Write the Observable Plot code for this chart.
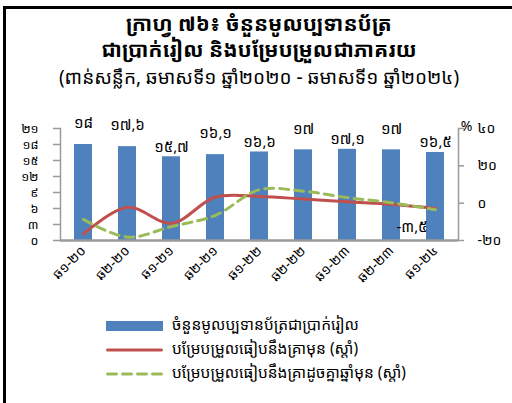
<!DOCTYPE html>
<html>
<head>
<meta charset="utf-8">
<script src="https://cdn.jsdelivr.net/npm/d3@7"></script>
<script src="https://cdn.jsdelivr.net/npm/@observablehq/plot@0.6"></script>
<style>
  html, body { margin: 0; padding: 0; background: #fff; }
  #wrap { position: relative; width: 512px; height: 403px; overflow: hidden;
    font-family: "Khmer OS System", "Khmer OS", "Noto Sans Khmer", "Noto Sans", sans-serif; color: #000; }
  #frame { position: absolute; left: 3px; top: 6px; width: 520px; height: 420px;
    border-left: 3px solid #000; border-top: 3px solid #000; }
  .title { position: absolute; left: 6px; width: 506px; text-align: center; white-space: nowrap; }
  .t1 { top: 10px; font-size: 21px; font-weight: bold; line-height: 26px; }
  .t2 { top: 36px; font-size: 21px; font-weight: bold; line-height: 26px; }
  .t3 { top: 66px; font-size: 19px; line-height: 22px; }
  #chart { position: absolute; left: 0; top: 100px; }
  .leg { position: absolute; left: 106px; font-size: 15.5px; line-height: 20px; white-space: nowrap; }
  .leg svg { vertical-align: middle; margin-right: 9px; }
</style>
</head>
<body>
<div id="wrap">
  <div id="frame"></div>
  <div class="title t1">ក្រាហ្វ ៧៦៖ ចំនួនមូលប្បទានប័ត្រ</div>
  <div class="title t2">ជាប្រាក់រៀល និងបម្រែបម្រួលជាភាគរយ</div>
  <div class="title t3">(ពាន់សន្លឹក, ឆមាសទី១ ឆ្នាំ២០២០ - ឆមាសទី១ ឆ្នាំ២០២៤)</div>
  <div id="chart"></div>
  <div id="legend"></div>
</div>
<script>
// ---- data ----
const categories = ["ឆ១-២០", "ឆ២-២០", "ឆ១-២១", "ឆ២-២១", "ឆ១-២២", "ឆ២-២២", "ឆ១-២៣", "ឆ២-២៣", "ឆ១-២៤"];
const notes = [18, 17.6, 15.7, 16.1, 16.6, 17, 17.1, 17, 16.5];          // thousand sheets (left axis)
const qoq = [-16.5, -2.2, -10.8, 3.3, 3.6, 2.2, 0.7, -0.6, -2.9];        // % vs previous period (right axis)
const yoy = [-8.7, -18.2, -12.5, -6.5, 7.2, 6.4, 3.0, 0.2, -3.5];         // % vs same period last year (right axis)
const leftTicks = [0, 3, 6, 9, 12, 15, 18, 21];
const rightTicks = [-20, 0, 20, 40];
const seriesNames = [
  "ចំនួនមូលប្បទានប័ត្រជាប្រាក់រៀល",
  "បម្រែបម្រួលធៀបនឹងគ្រាមុន (ស្តាំ)",
  "បម្រែបម្រួលធៀបនឹងគ្រាដូចគ្នាឆ្នាំមុន (ស្តាំ)"
];

// ---- helpers ----
const khDigits = "០១២៣៤៥៦៧៨៩";
const kh = v => String(v).replace(/[0-9]/g, c => khDigits[+c]).replace(".", ",");
const leftMax = 21, rMin = -20, rMax = 40;
const toLeft = v => (v - rMin) * leftMax / (rMax - rMin);
const fromLeft = d => Math.round(d * (rMax - rMin) / leftMax + rMin);

const BLUE = "#4F81BD", RED = "#C0504D", GREEN = "#9BBB59", AXIS = "#9a9a9a";
const fontFam = "'Khmer OS System','Khmer OS','Noto Sans Khmer','Noto Sans',sans-serif";

const table = categories.map((c, i) => ({c, i, notes: notes[i], qoq: toLeft(qoq[i]), yoy: toLeft(yoy[i]), label: kh(notes[i])}));
const raised = new Set([0, 1, 3, 5, 7]);

const chart = Plot.plot({
  width: 512,
  height: 210,
  marginLeft: 60,
  marginRight: 54,
  marginTop: 28,
  marginBottom: 70,
  style: {fontFamily: fontFam, background: "transparent", color: "#000", overflow: "visible"},
  x: {type: "band", domain: categories, paddingInner: 0.59, paddingOuter: 0.295, label: null},
  y: {domain: [0, leftMax], label: null},
  marks: [
    Plot.barY(table, {x: "c", y: "notes", fill: BLUE}),
    Plot.frame({anchor: "left", stroke: AXIS, strokeWidth: 1.5}),
    Plot.frame({anchor: "right", stroke: AXIS, strokeWidth: 1.5}),
    Plot.ruleY([0], {stroke: AXIS, strokeWidth: 2.5}),
    Plot.axisY({anchor: "left", ticks: leftTicks, tickFormat: kh, tickSize: 7, tickPadding: 15,
      fontSize: 12.5, stroke: AXIS, strokeWidth: 1.5, color: "#000", label: null}),
    Plot.axisY({anchor: "right", ticks: rightTicks.map(toLeft), tickFormat: d => kh(fromLeft(d)),
      tickSize: 5, tickPadding: 14, fontSize: 14, stroke: AXIS, strokeWidth: 1.5, label: null}),
    Plot.axisX({tickSize: 0, tickRotate: -45, tickPadding: 8, fontSize: 13.5, label: null}),
    Plot.lineY(table, {x: "c", y: "qoq", stroke: RED, strokeWidth: 3, curve: "catmull-rom"}),
    Plot.lineY(table, {x: "c", y: "yoy", stroke: GREEN, strokeWidth: 3, strokeDasharray: "9,6", curve: "catmull-rom"}),
    Plot.text(table.filter(d => raised.has(d.i)), {x: "c", y: "notes", text: "label", dy: -21, fontSize: 15}),
    Plot.text(table.filter(d => !raised.has(d.i)), {x: "c", y: "notes", text: "label", dy: -10, fontSize: 15}),
    Plot.text(table.filter(d => d.i === categories.length - 1), {x: "c", y: "yoy", text: d => kh(yoy[d.i]), dx: -8, dy: 17, fontSize: 15, textAnchor: "end"}),
    Plot.text(["%"], {frameAnchor: "top-right", dx: 8, dy: -7, fontSize: 14, textAnchor: "middle"})
  ]
});
document.getElementById("chart").appendChild(chart);

// ---- legend ----
const legend = document.getElementById("legend");
const swatches = [
  `<svg width="57" height="10"><rect x="0" y="0" width="57" height="10" fill="${BLUE}"/></svg>`,
  `<svg width="57" height="10"><line x1="1.5" x2="55.5" y1="5" y2="5" stroke="${RED}" stroke-width="3" stroke-linecap="round"/></svg>`,
  `<svg width="57" height="10"><line x1="1.5" x2="55.5" y1="5" y2="5" stroke="${GREEN}" stroke-width="3" stroke-dasharray="9,6" stroke-linecap="round"/></svg>`
];
const legTops = [314, 338, 362];
seriesNames.forEach((name, i) => {
  const div = document.createElement("div");
  div.className = "leg";
  div.style.top = legTops[i] + "px";
  div.innerHTML = swatches[i] + `<span>${name}</span>`;
  legend.appendChild(div);
});
</script>
</body>
</html>
